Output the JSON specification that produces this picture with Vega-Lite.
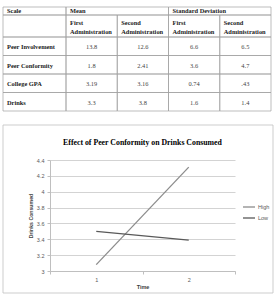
{
  "$schema": "https://vega.github.io/schema/vega-lite/v6.json",
  "width": 185,
  "height": 111,
  "autosize": "none",
  "padding": {"left": 50, "top": 160, "right": 40, "bottom": 27},
  "background": "white",
  "config": {"view": {"stroke": null}},
  "datasets": {
    "table": [
      {"r0": 0, "r1": 1, "c0": 0, "c1": 1, "label": "Scale"},
      {"r0": 0, "r1": 1, "c0": 1, "c1": 3, "label": "Mean"},
      {"r0": 0, "r1": 1, "c0": 3, "c1": 5, "label": "Standard Deviation"},
      {"r0": 1, "r1": 2, "c0": 0, "c1": 1, "label": ""},
      {"r0": 1, "r1": 2, "c0": 1, "c1": 2, "label": "First\nAdministration"},
      {"r0": 1, "r1": 2, "c0": 2, "c1": 3, "label": "Second\nAdministration"},
      {"r0": 1, "r1": 2, "c0": 3, "c1": 4, "label": "First\nAdministration"},
      {"r0": 1, "r1": 2, "c0": 4, "c1": 5, "label": "Second\nAdministration"},
      {"r0": 2, "r1": 3, "c0": 0, "c1": 1, "label": "Peer Involvement"},
      {"r0": 2, "r1": 3, "c0": 1, "c1": 2, "label": "13.8"},
      {"r0": 2, "r1": 3, "c0": 2, "c1": 3, "label": "12.6"},
      {"r0": 2, "r1": 3, "c0": 3, "c1": 4, "label": "6.6"},
      {"r0": 2, "r1": 3, "c0": 4, "c1": 5, "label": "6.5"},
      {"r0": 3, "r1": 4, "c0": 0, "c1": 1, "label": "Peer Conformity"},
      {"r0": 3, "r1": 4, "c0": 1, "c1": 2, "label": "1.8"},
      {"r0": 3, "r1": 4, "c0": 2, "c1": 3, "label": "2.41"},
      {"r0": 3, "r1": 4, "c0": 3, "c1": 4, "label": "3.6"},
      {"r0": 3, "r1": 4, "c0": 4, "c1": 5, "label": "4.7"},
      {"r0": 4, "r1": 5, "c0": 0, "c1": 1, "label": "College GPA"},
      {"r0": 4, "r1": 5, "c0": 1, "c1": 2, "label": "3.19"},
      {"r0": 4, "r1": 5, "c0": 2, "c1": 3, "label": "3.16"},
      {"r0": 4, "r1": 5, "c0": 3, "c1": 4, "label": "0.74"},
      {"r0": 4, "r1": 5, "c0": 4, "c1": 5, "label": ".43"},
      {"r0": 5, "r1": 6, "c0": 0, "c1": 1, "label": "Drinks"},
      {"r0": 5, "r1": 6, "c0": 1, "c1": 2, "label": "3.3"},
      {"r0": 5, "r1": 6, "c0": 2, "c1": 3, "label": "3.8"},
      {"r0": 5, "r1": 6, "c0": 3, "c1": 4, "label": "1.6"},
      {"r0": 5, "r1": 6, "c0": 4, "c1": 5, "label": "1.4"}
    ],
    "drinks": [
      {"time": "1", "group": "High", "drinks": 3.08},
      {"time": "2", "group": "High", "drinks": 4.31},
      {"time": "1", "group": "Low", "drinks": 3.5},
      {"time": "2", "group": "Low", "drinks": 3.39}
    ]
  },
  "title": {
    "text": "Effect of Peer Conformity on Drinks Consumed",
    "font": "Liberation Serif",
    "fontSize": 7.8,
    "fontWeight": "bold",
    "color": "#000000",
    "anchor": "middle",
    "frame": "group",
    "offset": -140
  },
  "layer": [
    {
      "data": {"values": [{}]},
      "mark": {"type": "rect", "fillOpacity": 0, "stroke": "#c0c0c0", "strokeWidth": 0.8},
      "encoding": {
        "x": {"value": -47},
        "x2": {"value": 223},
        "y": {"value": -35},
        "y2": {"value": 133}
      }
    },
    {
      "data": {"name": "table"},
      "encoding": {
        "x": {"field": "c0", "type": "quantitative", "scale": {"domain": [0, 1, 5], "range": [-47, 16, 221], "nice": false, "zero": false}, "axis": null},
        "y": {"field": "r0", "type": "quantitative", "scale": {"domain": [0, 1, 2, 6], "range": [-153, -145, -123, -49], "nice": false, "zero": false}, "axis": null}
      },
      "layer": [
        {
          "mark": {"type": "rect", "fillOpacity": 0, "stroke": "#a0a0a0", "strokeWidth": 0.7},
          "encoding": {
            "x2": {"field": "c1"},
            "y2": {"field": "r1"}
          }
        },
        {
          "transform": [{"filter": "datum.r0 == 0"}],
          "mark": {"type": "text", "align": "left", "baseline": "middle", "dx": 4, "dy": 4, "font": "Liberation Serif", "fontSize": 6.4, "fontWeight": "bold", "color": "#222222"},
          "encoding": {"text": {"field": "label"}}
        },
        {
          "transform": [{"filter": "datum.r0 == 1"}],
          "mark": {"type": "text", "align": "left", "baseline": "middle", "dx": 4, "dy": 7.7, "lineBreak": "\n", "lineHeight": 9.6, "font": "Liberation Serif", "fontSize": 6.4, "fontWeight": "bold", "color": "#222222"},
          "encoding": {"text": {"field": "label"}}
        },
        {
          "transform": [{"filter": "datum.r0 >= 2 && datum.c0 == 0"}],
          "mark": {"type": "text", "align": "left", "baseline": "middle", "dx": 4, "dy": 10.3, "font": "Liberation Serif", "fontSize": 6.4, "fontWeight": "bold", "color": "#222222"},
          "encoding": {"text": {"field": "label"}}
        },
        {
          "transform": [{"filter": "datum.r0 >= 2 && datum.c0 >= 1"}],
          "mark": {"type": "text", "align": "center", "baseline": "middle", "dx": 25.6, "dy": 10.3, "font": "Liberation Serif", "fontSize": 6.4, "color": "#444444"},
          "encoding": {"text": {"field": "label"}}
        }
      ]
    },
    {
      "data": {"name": "drinks"},
      "mark": {"type": "line", "strokeWidth": 1.3},
      "encoding": {
        "x": {
          "field": "time", "type": "ordinal", "bandPosition": 0.5,
          "scale": {"type": "band", "paddingInner": 0, "paddingOuter": 0},
          "axis": {"title": "Time", "labelAngle": 0, "tickBand": "extent", "grid": false, "domainColor": "#bfbfbf", "tickColor": "#bfbfbf", "tickSize": 3, "labelFont": "Liberation Sans", "labelFontSize": 5.5, "labelColor": "#595959", "labelPadding": 3, "titleFont": "Liberation Sans", "titleFontSize": 5.5, "titleFontWeight": "bold", "titleColor": "#404040", "titlePadding": 2}
        },
        "y": {
          "field": "drinks", "type": "quantitative",
          "scale": {"domain": [3, 4.4], "nice": false, "zero": false},
          "axis": {"title": "Drinks Consumed", "values": [3, 3.2, 3.4, 3.6, 3.8, 4, 4.2, 4.4], "format": "~g", "grid": true, "gridColor": "#c8c8c8", "gridWidth": 0.8, "domainColor": "#bfbfbf", "tickColor": "#bfbfbf", "tickSize": 3, "labelFont": "Liberation Sans", "labelFontSize": 5.5, "labelColor": "#595959", "labelPadding": 3, "titleFont": "Liberation Sans", "titleFontSize": 5.2, "titleFontWeight": "bold", "titleColor": "#404040", "titlePadding": 3}
        },
        "color": {
          "field": "group", "type": "nominal",
          "scale": {"domain": ["High", "Low"], "range": ["#8c8c8c", "#595959"]},
          "legend": {"title": null, "orient": "none", "legendX": 192, "legendY": 40, "symbolType": "stroke", "symbolSize": 144, "symbolStrokeWidth": 1.3, "labelFont": "Liberation Sans", "labelFontSize": 5.5, "labelColor": "#595959", "labelOffset": 2, "rowPadding": 0}
        }
      }
    }
  ],
  "resolve": {
    "scale": {"x": "independent", "y": "independent"},
    "axis": {"x": "independent", "y": "independent"}
  }
}
